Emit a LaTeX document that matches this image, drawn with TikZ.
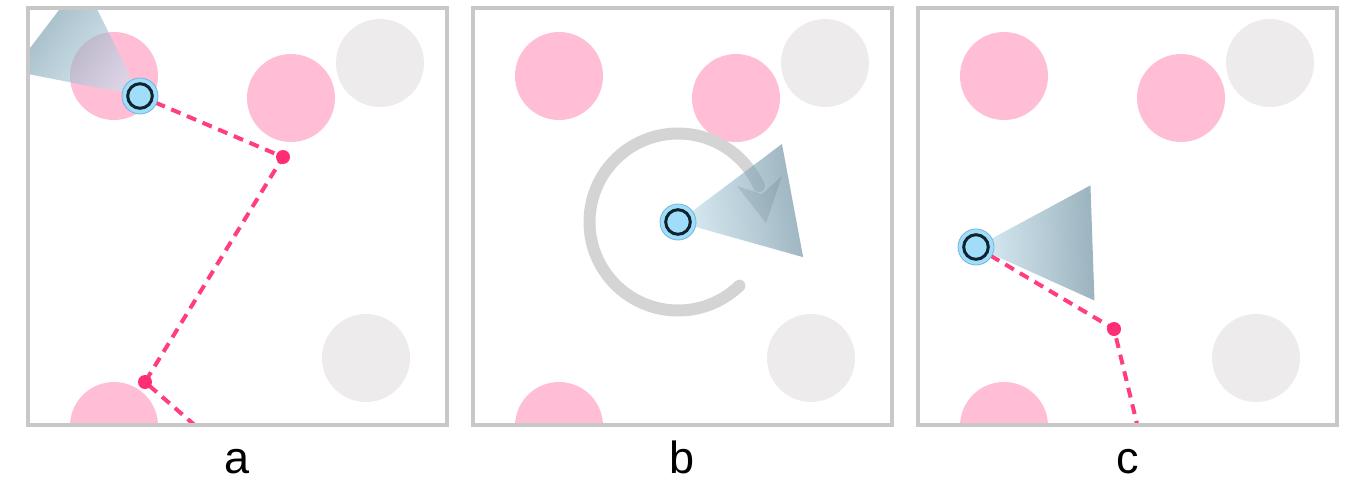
\documentclass[tikz,border=0pt]{standalone}
\usepackage{fontspec}
\setmainfont{Liberation Sans}

\definecolor{framegray}{HTML}{C8C8C8}
\definecolor{obpink}{HTML}{FFBDD6}
\definecolor{obgray}{HTML}{EEEBED}
\definecolor{routepink}{HTML}{FF3D7F}
\definecolor{dotpink}{HTML}{FF2C76}
\definecolor{botfill}{HTML}{A0DDFB}
\definecolor{botedge}{HTML}{72B6D8}
\definecolor{botring}{HTML}{10242E}
\definecolor{conenear}{HTML}{C3E1EE}
\definecolor{conefar}{HTML}{588094}
\definecolor{turngray}{HTML}{D4D4D4}

\tikzset{
  panelframe/.style={draw=framegray, line width=3.5pt},
  robot/.style={circle, fill=botfill, draw=botedge, line width=0.8pt,
    minimum size=36pt, inner sep=0pt,
    path picture={\draw[botring, line width=3pt]
      (path picture bounding box.center) circle[radius=12.3pt];}},
  waypoint/.style={circle, fill=dotpink, minimum size=14pt, inner sep=0pt},
  routeline/.style={draw=routepink, line width=4pt, dash pattern=on 10pt off 7pt},
  viewcone/.style={fill opacity=0.6, left color=conenear, right color=conefar},
  turnarc/.style={draw=turngray, line width=12pt},
  panellabel/.style={font=\fontsize{45}{45}\selectfont, anchor=base, inner sep=0pt},
}

% obstacle field, drawn in panel-local offset #1
\newcommand\obstaclefield[1]{%
  \begin{scope}[shift={(#1,0)}]
    \fill[obpink] (114,76) circle[radius=44];
    \fill[obpink] (291,98) circle[radius=44];
    \fill[obgray] (380,63) circle[radius=44];
    \fill[obgray] (366,358) circle[radius=44];
    \fill[obpink] (114,426) circle[radius=44];
  \end{scope}}

% sensing wedge: apex, axis angle (clockwise, y down), shading angle
\newcommand\sensorcone[3]{%
  \shade[viewcone, shading angle=#3] (#1) -- +({#2-26.3}:130) -- +({#2+26.3}:130) -- cycle;}

\begin{document}
\begin{tikzpicture}[x=1pt, y=-1pt]
\useasboundingbox (0,0) rectangle (1352,477);

% ---------- panel a ----------
\coordinate (pa) at (140,96);
\coordinate (a1) at (283,157);
\coordinate (a2) at (145,382);
\coordinate (aexit) at (198,428);
\begin{scope}
  \clip (28,8) rectangle (447,425);
  \obstaclefield{0}
  \draw[routeline] (pa) -- (a1) -- (a2) -- (aexit);
  \node[waypoint] (wa1) at (a1) {};
  \node[waypoint] (wa2) at (a2) {};
  \sensorcone{pa}{217.4}{-127.4}
  \node[robot] (ra) at (pa) {};
\end{scope}
\draw[panelframe] (28,8) rectangle (447,425);
\node[panellabel] (la) at (237.5,473) {a};

% ---------- panel b ----------
\coordinate (pb) at (678,222);
\coordinate (turnend) at (762,194);
\begin{scope}
  \clip (473,8) rectangle (892,425);
  \obstaclefield{445}
  % turning arc with a barbed head
  \draw[turnarc, line cap=round]
    plot[domain=46:336, samples=150] ({678+88.5*cos(\x)}, {222+88.5*sin(\x)});
  \fill[turngray] (turnend) -- (737,186) -- (766,223) -- (782,176) -- cycle;
  \sensorcone{pb}{-10.6}{100.6}
  \node[robot] (rb) at (pb) {};
\end{scope}
\draw[panelframe] (473,8) rectangle (892,425);
\node[panellabel] (lb) at (682.5,473) {b};

% ---------- panel c ----------
\coordinate (pc) at (976,247);
\coordinate (c1) at (1114,329);
\coordinate (cexit) at (1138,428);
\begin{scope}
  \clip (918,8) rectangle (1337,425);
  \obstaclefield{890}
  \draw[routeline] (pc) -- (c1) -- (cexit);
  \node[waypoint] (wc1) at (c1) {};
  \sensorcone{pc}{-2}{92}
  \node[robot] (rc) at (pc) {};
\end{scope}
\draw[panelframe] (918,8) rectangle (1337,425);
\node[panellabel] (lc) at (1127.5,473) {c};

\end{tikzpicture}
\end{document}
